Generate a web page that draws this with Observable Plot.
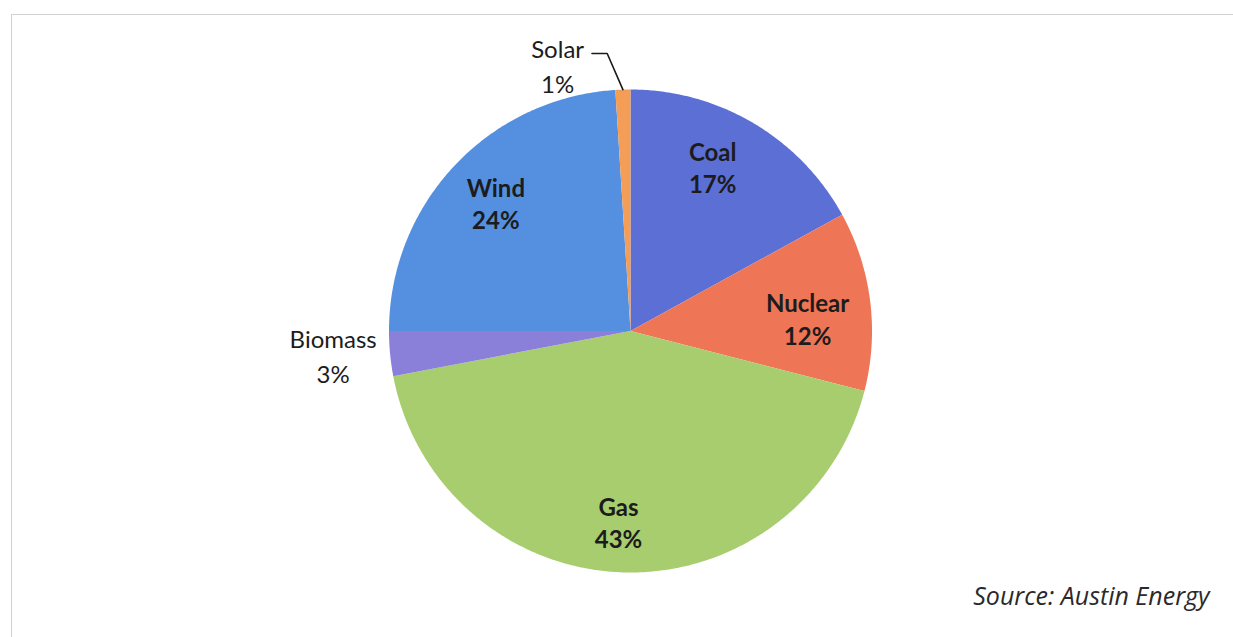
<!DOCTYPE html>
<html>
<head>
<meta charset="utf-8">
<script src="https://cdn.jsdelivr.net/npm/d3@7"></script>
<script src="https://cdn.jsdelivr.net/npm/@observablehq/plot@0.6"></script>
<style>
  html, body { margin: 0; padding: 0; background: #ffffff; }
  #wrap { position: relative; width: 1233px; height: 637px; overflow: hidden; }
  #frame { position: absolute; left: 11px; top: 14px; width: 1240px; height: 640px;
           border-top: 1px solid #d2d2d2; border-left: 1px solid #d2d2d2; pointer-events: none; }
  #chart { position: absolute; left: 0; top: 0; }
</style>
</head>
<body>
<div id="wrap"><div id="chart"></div><div id="frame"></div></div>
<script>
// ---- data ----
const categories = ["Coal", "Nuclear", "Gas", "Biomass", "Wind", "Solar"];
const shares = [17, 12, 43, 3, 24, 1];
const colors = ["#5b6fd5", "#ee7556", "#a7cd6f", "#8a80da", "#5490df", "#f39d56"];
const caption = "Source: Austin Energy";

// ---- layout (label placement, not data) ----
const inside = new Set(["Coal", "Nuclear", "Gas", "Wind"]);
const labelPolar = { // angle (deg, clockwise from top), radius (fraction of R)
  Coal: [26.6, 0.76], Nuclear: [85.9, 0.735], Gas: [183.6, 0.79],
  Wind: [313.6, 0.77], Biomass: [265.5, 1.235], Solar: [344.7, 1.144]
};

const rows = categories.map((c, i) => ({name: c, value: shares[i]}));
const arcs = d3.pie().sort(null).value(d => d.value)(rows);

const pts = [];
for (const a of arcs) {
  const name = a.data.name;
  pts.push({name, x: 0, y: 0});
  const n = Math.max(2, Math.ceil((a.endAngle - a.startAngle) / (Math.PI / 360)));
  for (let k = 0; k <= n; k++) {
    const t = a.startAngle + (a.endAngle - a.startAngle) * k / n;
    pts.push({name, x: Math.sin(t), y: Math.cos(t)});
  }
}

const labels = arcs.map(a => {
  const name = a.data.name;
  const [deg, r] = labelPolar[name];
  const t = deg * Math.PI / 180;
  return {name, x: r * Math.sin(t), y: r * Math.cos(t), text: `${name}\n${a.data.value}%`};
});

// Solar leader line
const solar = arcs.find(a => a.data.name === "Solar");
const mid = (solar.startAngle + solar.endAngle) / 2;
const elbowT = mid - 3 * Math.PI / 180;
const elbow = {x: 1.153 * Math.sin(elbowT), y: 1.153 * Math.cos(elbowT)};
const leader = [
  {x: elbow.x - 0.063, y: elbow.y},
  elbow,
  {x: Math.sin(mid), y: Math.cos(mid)}
];

const W = 1233, H = 637;
const chart = Plot.plot({
  width: W, height: H,
  marginLeft: 388.5, marginRight: 1233 - 871.5,
  marginTop: 89, marginBottom: 637 - 572,
  x: {domain: [-1, 1], axis: null},
  y: {domain: [-1, 1], axis: null},
  color: {domain: categories, range: colors},
  style: {background: "transparent", overflow: "visible"},
  marks: [
    Plot.line(pts, {x: "x", y: "y", z: "name", fill: "name", stroke: "none", curve: "linear-closed"}),
    Plot.line(leader, {x: "x", y: "y", stroke: "#1a1a1a", strokeWidth: 1.6}),
    Plot.text(labels.filter(d => inside.has(d.name)), {
      x: "x", y: "y", text: "text", fontSize: 24, fontWeight: 700,
      fontFamily: "Lato, 'Open Sans', sans-serif", fill: "#1c1c1c", lineHeight: 1.35
    }),
    Plot.text(labels.filter(d => !inside.has(d.name)), {
      x: "x", y: "y", text: "text", fontSize: 24, fontWeight: 400,
      fontFamily: "Lato, 'Open Sans', sans-serif", fill: "#1c1c1c", lineHeight: 1.45
    }),
    Plot.text([caption], {
      text: d => d, frameAnchor: "bottom-right", dx: 1209 - 871.5, dy: 32,
      textAnchor: "end", fontSize: 25, fontStyle: "italic", fontWeight: 400,
      fontFamily: "'Open Sans', Lato, sans-serif", fill: "#2a2a2a"
    })
  ]
});
document.getElementById("chart").appendChild(chart);
</script>
</body>
</html>
